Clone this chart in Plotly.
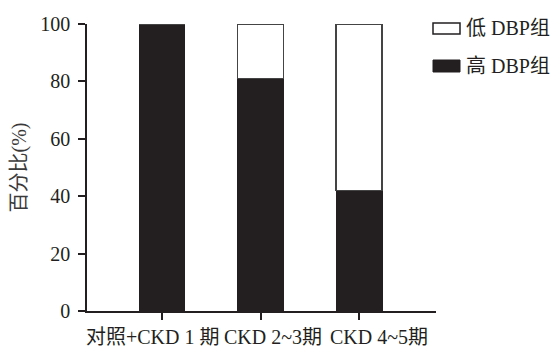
import plotly.graph_objects as go

categories = ["对照+CKD 1期", "CKD 2~3期", "CKD 4~5期"]
high_dbp = [100, 81, 42]
low_dbp = [0, 19, 58]
series_names = ["低DBP组", "高DBP组"]
y_ticks = [0, 20, 40, 60, 80, 100]

INK = "#231f20"
FONT = "Liberation Serif, Times New Roman, Noto Sans CJK SC, serif"
FS = 20

W, H = 552, 347
L, R, T, B = 87, 116, 24, 36
pw, ph = W - L - R, H - T - B

def px(x):
    return (x - L) / pw

def py(y):
    return (H - B - y) / ph

fig = go.Figure()
fig.add_trace(go.Bar(x=categories, y=high_dbp, name=series_names[1],
                     marker=dict(color=INK, line=dict(color=INK, width=1)),
                     width=0.465, showlegend=False))
fig.add_trace(go.Bar(x=categories, y=low_dbp, name=series_names[0],
                     marker=dict(color="white", line=dict(color="#444", width=1.8)),
                     width=0.465, showlegend=False))

# legend (manual)
fig.add_shape(type="rect", xref="paper", yref="paper",
              x0=px(433), x1=px(460), y0=py(34), y1=py(23),
              fillcolor="white", line=dict(color=INK, width=1.5))
fig.add_shape(type="rect", xref="paper", yref="paper",
              x0=px(433), x1=px(460), y0=py(72), y1=py(60),
              fillcolor=INK, line=dict(color=INK, width=1))
for name, ycen in zip(series_names, [28, 66]):
    fig.add_annotation(text=name.replace("DBP", " DBP"), xref="paper", yref="paper",
                       x=px(464), y=py(ycen), xanchor="left", yanchor="middle",
                       showarrow=False, font=dict(size=FS, color=INK, family=FONT))

# category labels (placed as in the reference, slightly offset from ticks)
label_shift = [-9, 12, 20]
for cat, sh in zip(categories, label_shift):
    fig.add_annotation(text=cat.replace("期", " 期") if cat.startswith("对照") else cat,
                       x=cat, xref="x", y=0, yref="paper",
                       xanchor="center", yanchor="middle", yshift=-26, xshift=sh,
                       showarrow=False, font=dict(size=FS, color=INK, family=FONT))

fig.update_layout(
    width=W, height=H, barmode="stack",
    margin=dict(l=L, r=R, t=T, b=B),
    plot_bgcolor="white", paper_bgcolor="white",
    font=dict(family=FONT, size=FS, color=INK),
    showlegend=False,
)
fig.update_xaxes(range=[-0.76, 2.78], showline=True, linecolor=INK, linewidth=1.5,
                 ticks="outside", ticklen=7, tickwidth=1.5, tickcolor=INK,
                 showgrid=False, zeroline=False, showticklabels=False, automargin=False)
fig.update_yaxes(range=[0, 100], tickvals=y_ticks, showline=True, linecolor=INK, linewidth=1.5,
                 ticks="outside", ticklen=7, tickwidth=1.5, tickcolor=INK,
                 showgrid=False, zeroline=False, automargin=False, ticklabelstandoff=4,
                 tickfont=dict(size=FS, color=INK, family=FONT),
                 title=dict(text="百分比(%)", standoff=8, font=dict(size=FS, color="#3a3a3a", family=FONT)))

fig.write_html("out.html")
